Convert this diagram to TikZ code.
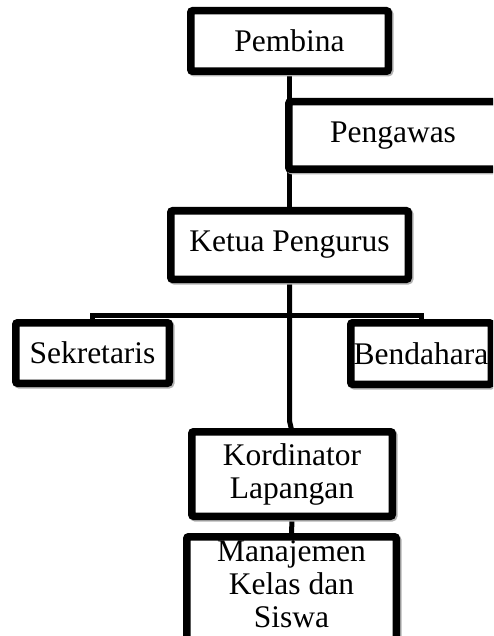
\documentclass[tikz,border=0pt]{standalone}
\usepackage{fontspec}
\setmainfont{Liberation Serif}
\begin{document}
\begin{tikzpicture}[x=1pt,y=-1pt,
  orgbox/.style={draw=black, line width=7.5pt, fill=white, rounded corners=2pt,
    inner sep=0pt, align=center, font=\fontsize{31.5}{33}\selectfont,
    preaction={draw=black!30, line width=7.5pt, transform canvas={xshift=1.5pt, yshift=-1.5pt}}},
  ghost/.style={draw=none, fill=none, inner sep=0pt},
  link/.style={draw=black, line width=5pt}]
\useasboundingbox (0,0) rectangle (493,636);
\clip (0,0) rectangle (493,636);
% anchors for connectors (same geometry as the boxes)
\coordinate (bar) at (289.5,315);
\coordinate (kink) at (289.5,421);
\node[ghost, minimum width=197.5pt, minimum height=60.5pt] (pembinaA) at (289.5,41) {};
\node[ghost, minimum width=237.5pt, minimum height=68.5pt] (ketuaA) at (289.5,245) {};
\node[ghost, minimum width=153.5pt, minimum height=60.5pt] (sekA) at (92.5,353) {};
\node[ghost, minimum width=140.5pt, minimum height=61.5pt] (bendA) at (421,353.5) {};
\node[ghost, minimum width=200.5pt, minimum height=84.5pt] (kordA) at (292,474) {};
\node[ghost, minimum width=209.5pt, minimum height=120pt] (mksA) at (291.5,596.75) {};
\draw[link] (pembinaA.south) -- (ketuaA.north);
\draw[link] (ketuaA.south) -- (kink) -- (kordA.north);
\draw[link] (sekA.north) |- (bar) -| (bendA.north);
\draw[link] (kordA.south) -- (mksA.north);
% boxes
\node[orgbox, minimum width=197.5pt, minimum height=60.5pt] (pembina) at (289.5,41) {Pembina};
\node[orgbox, minimum width=208.5pt, minimum height=67.5pt] (pengawas) at (393,135.5) {Pengawas};
\node[orgbox, minimum width=237.5pt, minimum height=68.5pt] (ketua) at (289.5,245) {Ketua Pengurus};
\node[orgbox, minimum width=153.5pt, minimum height=60.5pt] (sek) at (92.5,353) {Sekretaris};
\node[orgbox, minimum width=140.5pt, minimum height=61.5pt] (bend) at (421,353.5) {Bendahara};
\node[orgbox, minimum width=200.5pt, minimum height=84.5pt] (kord) at (292,474) {Kordinator\\Lapangan};
\node[orgbox, minimum width=209.5pt, minimum height=120pt] (mks) at (291.5,596.75) {};
\node[align=center, inner sep=0pt, font=\fontsize{31.5}{33}\selectfont] (mkstext) at (291.5,584) {Manajemen\\Kelas dan\\Siswa};
\end{tikzpicture}
\end{document}
